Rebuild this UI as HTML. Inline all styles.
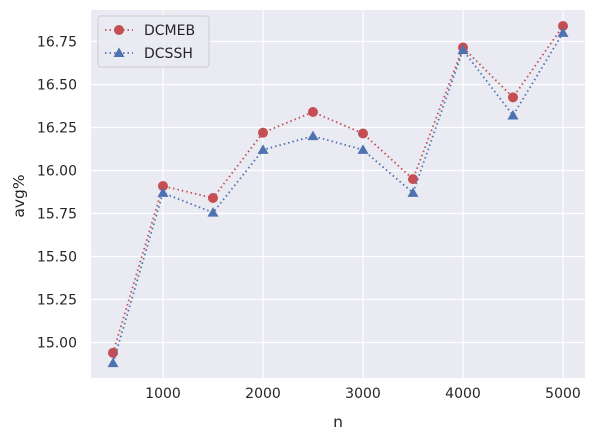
<!DOCTYPE html>
<html><head><meta charset="utf-8"><style>
body{margin:0;background:#fff;font-family:"Liberation Sans","DejaVu Sans",sans-serif}
svg text{font-family:"DejaVu Sans","Liberation Sans",sans-serif;fill:#262626}
</style></head><body>
<svg id="chart" width="596" height="441" xmlns="http://www.w3.org/2000/svg">
<rect x="91" y="10" width="494" height="368" fill="#eaeaf2"/>
<g id="grid"></g><g id="ticks"></g><g id="series"></g>
<text x="338" y="427" font-size="15.5" text-anchor="middle">n</text>
<text x="24" y="196" font-size="15.5" text-anchor="middle" transform="rotate(-90 24 196)">avg%</text>
<g>
<rect x="98" y="16" width="111" height="51" rx="3" fill="#eaeaf2" stroke="#cccccc" fill-opacity="0.8"/>
<g>
<line x1="105" y1="30" x2="133" y2="30" stroke="#c44e52" stroke-width="1.8" stroke-dasharray="1.5,3"/>
<circle cx="119" cy="30" r="5" fill="#c44e52"/>
<text x="144" y="35" font-size="14">DCMEB</text></g>
<g>
<line x1="105" y1="53" x2="133" y2="53" stroke="#4c72b0" stroke-width="1.8" stroke-dasharray="1.5,3"/>
<polygon points="119,47.5 124.5,57 113.5,57" fill="#4c72b0"/>
<text x="144" y="58" font-size="14">DCSSH</text></g>
</g>
</svg>
<script>
const categories=[500,1000,1500,2000,2500,3000,3500,4000,4500,5000];
const dcmeb=[14.94,15.91,15.84,16.22,16.34,16.215,15.95,16.715,16.425,16.84];
const dcssh=[14.88,15.87,15.755,16.12,16.20,16.12,15.87,16.70,16.32,16.80];
const xTicks=[1000,2000,3000,4000,5000];
const yTicks=[15.00,15.25,15.50,15.75,16.00,16.25,16.50,16.75];
const NS="http://www.w3.org/2000/svg";
function X(v){return 163+(v-1000)*0.1;}
function Y(v){return 342.5-(v-15)*172;}
function mk(t,a,p){const e=document.createElementNS(NS,t);for(const k in a)e.setAttribute(k,a[k]);p.appendChild(e);return e;}
const grid=document.getElementById('grid'),ticks=document.getElementById('ticks'),ser=document.getElementById('series');
xTicks.forEach(v=>{
 const l=mk('line',{x1:X(v),x2:X(v),y1:10,y2:378,stroke:'#fff','stroke-width':1.2},grid);
 
 
 const t=mk('text',{x:X(v),y:398,'font-size':14,'text-anchor':'middle'},ticks);t.textContent=v;
 
 
});
yTicks.forEach(v=>{
 const l=mk('line',{x1:91,x2:585,y1:Y(v),y2:Y(v),stroke:'#fff','stroke-width':1.2},grid);
 
 
 const t=mk('text',{x:77,y:Y(v)+5,'font-size':14,'text-anchor':'end'},ticks);t.textContent=v.toFixed(2);
 
 
});
function draw(vals,color,tri,name){
 const pl=mk('polyline',{points:vals.map((v,i)=>X(categories[i])+','+Y(v)).join(' '),fill:'none',stroke:color,'stroke-width':1.8,'stroke-dasharray':'1.5,3'},ser);
 
 
 vals.forEach((v,i)=>{
  const x=X(categories[i]),y=Y(v);let m;
  if(tri)m=mk('polygon',{points:`${x},${y-5.5} ${x+5.5},${y+4} ${x-5.5},${y+4}`,fill:color},ser);
  else m=mk('circle',{cx:x,cy:y,r:5,fill:color},ser);
  
  
 });
}
draw(dcmeb,'#c44e52',false,'dcmeb');
draw(dcssh,'#4c72b0',true,'dcssh');
</script>
</body></html>
